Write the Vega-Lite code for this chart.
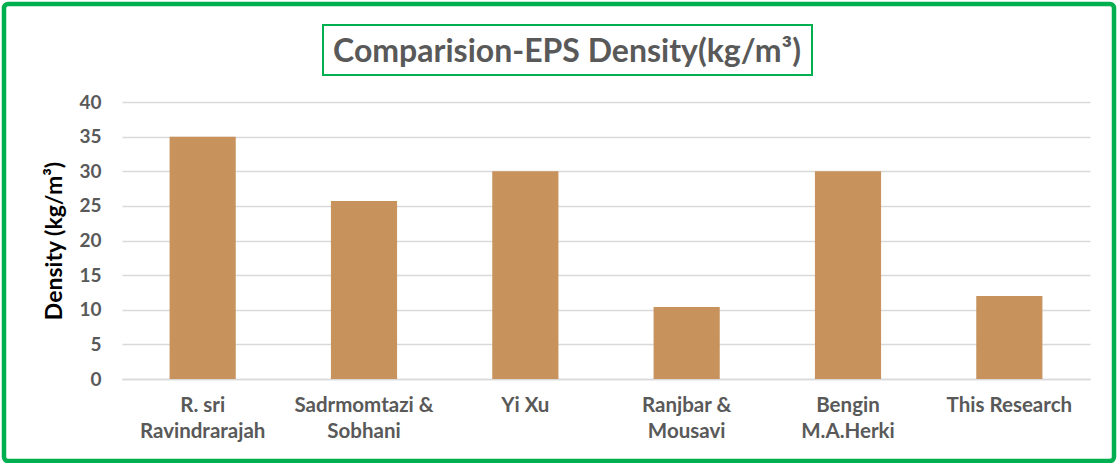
{
  "$schema": "https://vega.github.io/schema/vega-lite/v6.json",
  "width": 968,
  "height": 277,
  "autosize": {"type": "none"},
  "padding": {"left": 122, "top": 102, "right": 28, "bottom": 84},
  "background": "white",
  "config": {
    "view": {"stroke": null},
    "font": "Lato"
  },
  "layer": [
    {
      "data": {
        "values": [
          {"study": "R. sri|Ravindrarajah", "density": 35},
          {"study": "Sadrmomtazi &|Sobhani", "density": 25.7},
          {"study": "Yi Xu", "density": 30},
          {"study": "Ranjbar &|Mousavi", "density": 10.4},
          {"study": "Bengin|M.A.Herki", "density": 30},
          {"study": "This Research", "density": 12}
        ]
      },
      "mark": {"type": "bar", "color": "#c8925c"},
      "encoding": {
        "x": {
          "field": "study",
          "type": "nominal",
          "sort": null,
          "scale": {"paddingInner": 0.59, "paddingOuter": 0.295},
          "axis": {
            "title": null,
            "labelAngle": 0,
            "labelExpr": "split(datum.label, '|')",
            "labelFont": "Lato",
            "labelFontSize": 20.5,
            "labelFontWeight": "bold",
            "labelColor": "#595959",
            "labelLineHeight": 26,
            "labelPadding": 16,
            "labelBaseline": "top",
            "ticks": false,
            "domain": true,
            "domainColor": "#d9d9d9",
            "domainWidth": 1.5,
            "labelLimit": 300
          }
        },
        "y": {
          "field": "density",
          "type": "quantitative",
          "scale": {"domain": [0, 40]},
          "axis": {
            "title": "Density (kg/m³)",
            "titleFont": "Lato",
            "titleFontSize": 23,
            "titleFontWeight": "bold",
            "titleColor": "#000000",
            "titlePadding": 12,
            "values": [0, 5, 10, 15, 20, 25, 30, 35, 40],
            "labelFont": "Lato",
            "labelFontSize": 19,
            "labelFontWeight": "bold",
            "labelColor": "#595959",
            "labelPadding": 21,
            "ticks": false,
            "domain": false,
            "grid": true,
            "gridColor": "#d9d9d9",
            "gridWidth": 1.5
          }
        }
      }
    },
    {
      "data": {"values": [{"label": "Comparision-EPS Density(kg/m³)"}]},
      "layer": [
        {
          "mark": {"type": "rect", "fill": null, "stroke": "#00b050", "strokeWidth": 2},
          "encoding": {
            "x": {"value": 201},
            "x2": {"value": 690},
            "y": {"value": -77},
            "y2": {"value": -27}
          }
        },
        {
          "mark": {"type": "text", "font": "Lato", "fontSize": 32, "fontWeight": "bold", "color": "#595959", "align": "center", "baseline": "alphabetic"},
          "encoding": {
            "text": {"field": "label"},
            "x": {"value": 445},
            "y": {"value": -40}
          }
        }
      ]
    },
    {
      "data": {"values": [{"frame": "outer border"}]},
      "mark": {"type": "rect", "fill": null, "stroke": "#00b050", "strokeWidth": 4.5, "cornerRadius": 4},
      "encoding": {
        "x": {"value": -118},
        "x2": {"value": 992},
        "y": {"value": -98},
        "y2": {"value": 359}
      }
    }
  ]
}
